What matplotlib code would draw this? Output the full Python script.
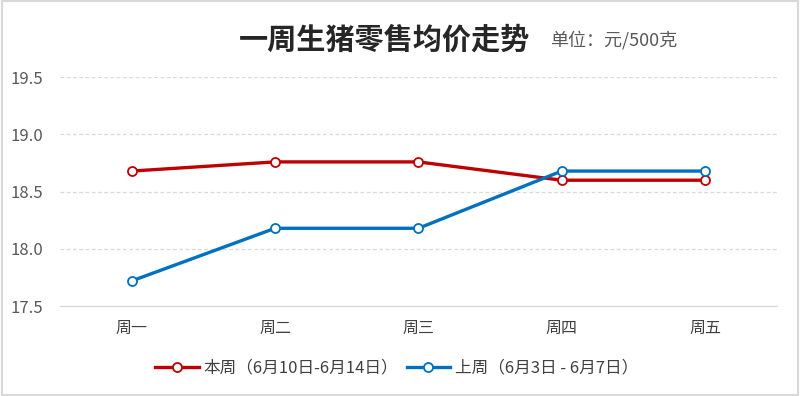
import matplotlib
matplotlib.use("Agg")
import matplotlib.pyplot as plt
from matplotlib.patches import Rectangle

plt.rcParams['font.family'] = ['Noto Sans CJK SC', 'DejaVu Sans']
plt.rcParams['axes.unicode_minus'] = False

# 数据
days = ['周一', '周二', '周三', '周四', '周五']
this_week = [18.68, 18.76, 18.76, 18.60, 18.60]
last_week = [17.72, 18.18, 18.18, 18.68, 18.68]
this_label = '本周（6月10日-6月14日）'
last_label = '上周（6月3日 - 6月7日）'
y_ticks = [17.5, 18.0, 18.5, 19.0, 19.5]

fig = plt.figure(figsize=(8, 3.96), dpi=100)
ax = fig.add_axes([0.075, 0.227, 0.896, 0.578])

x = list(range(len(days)))
ax.plot(x, this_week, color='#C00000', linewidth=2.4, marker='o', markersize=6.5,
        markerfacecolor='white', markeredgecolor='#C00000', markeredgewidth=1.3,
        label=this_label, zorder=3)
ax.plot(x, last_week, color='#0070C0', linewidth=2.4, marker='o', markersize=6.5,
        markerfacecolor='white', markeredgecolor='#0070C0', markeredgewidth=1.3,
        label=last_label, zorder=3)

ax.set_xlim(-0.5, len(days) - 0.5)
ax.set_ylim(17.5, 19.5)
ax.set_yticks(y_ticks)
ax.set_yticklabels([f'{v:.1f}' for v in y_ticks])
ax.set_xticks(x)
ax.set_xticklabels(days)

for v in y_ticks[1:]:
    ax.axhline(v, color='#D9D9D9', linestyle=(0, (3, 2)), linewidth=0.9, zorder=1)

for s in ['top', 'right', 'left']:
    ax.spines[s].set_visible(False)
ax.spines['bottom'].set_color('#D9D9D9')
ax.spines['bottom'].set_linewidth(1.0)
ax.tick_params(axis='y', length=0, labelsize=12, labelcolor='#595959', pad=12)
ax.tick_params(axis='x', length=0, labelsize=11.5, labelcolor='#404040', pad=10)

# 标题
fig.text(0.48, 0.90, '一周生猪零售均价走势', fontsize=21, fontweight='bold',
         ha='center', va='center', color='#262626')
fig.text(0.688, 0.90, '单位：元/500克', fontsize=13, ha='left', va='center',
         color='#595959')

ax.legend(loc='center', bbox_to_anchor=(0.47, -0.27), ncol=2, frameon=False,
          fontsize=12, handlelength=2.6, columnspacing=0.5, handletextpad=0.3,
          labelcolor='#404040')

# 外框
fig.patches.append(Rectangle((0.002, 0.003), 0.996, 0.994, transform=fig.transFigure,
                             fill=False, edgecolor='#D9D9D9', linewidth=1.5))

fig.savefig('out.png', dpi=100)
